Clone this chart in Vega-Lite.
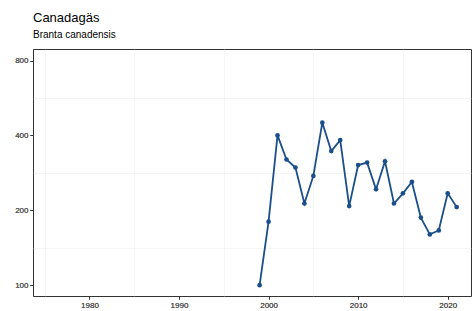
{
  "$schema": "https://vega.github.io/schema/vega-lite/v6.json",
  "width": 438,
  "height": 247,
  "autosize": {"type": "none"},
  "padding": {"left": 33, "top": 49, "right": 3, "bottom": 15},
  "background": "white",
  "title": {
    "text": "Canadagäs",
    "subtitle": "Branta canadensis",
    "anchor": "start",
    "frame": "group",
    "font": "Liberation Sans",
    "fontSize": 13,
    "fontWeight": "normal",
    "color": "#000000",
    "subtitleFont": "Liberation Sans",
    "subtitleFontSize": 10,
    "subtitleColor": "#000000",
    "subtitlePadding": 5,
    "offset": 9
  },
  "config": {
    "view": {"stroke": "#333333", "strokeWidth": 1},
    "axis": {
      "labelFont": "Liberation Sans",
      "labelFontSize": 8,
      "labelColor": "#4d4d4d",
      "tickColor": "#333333",
      "tickSize": 3,
      "domain": false,
      "gridColor": "#ebebeb",
      "gridWidth": 1,
      "title": null,
      "labelPadding": 2
    }
  },
  "data": {
    "values": [
      {"year": 1999, "count": 100},
      {"year": 2000, "count": 180},
      {"year": 2001, "count": 400},
      {"year": 2002, "count": 320},
      {"year": 2003, "count": 297},
      {"year": 2004, "count": 213},
      {"year": 2005, "count": 275},
      {"year": 2006, "count": 450},
      {"year": 2007, "count": 346},
      {"year": 2008, "count": 383},
      {"year": 2009, "count": 208},
      {"year": 2010, "count": 304},
      {"year": 2011, "count": 311},
      {"year": 2012, "count": 243},
      {"year": 2013, "count": 315},
      {"year": 2014, "count": 213},
      {"year": 2015, "count": 234},
      {"year": 2016, "count": 260},
      {"year": 2017, "count": 187},
      {"year": 2018, "count": 160},
      {"year": 2019, "count": 166},
      {"year": 2020, "count": 234},
      {"year": 2021, "count": 206}
    ]
  },
  "encoding": {
    "x": {
      "field": "year",
      "type": "quantitative",
      "scale": {"domain": [1973.7, 2022.6], "nice": false, "zero": false},
      "axis": {"values": [1980, 1990, 2000, 2010, 2020], "format": "d", "orient": "bottom"}
    },
    "y": {
      "field": "count",
      "type": "quantitative",
      "scale": {"type": "log", "domain": [90.5, 890], "nice": false},
      "axis": {"values": [100, 200, 400, 800], "format": "d", "orient": "left"}
    }
  },
  "layer": [
    {
      "mark": {"type": "point", "opacity": 0},
      "encoding": {
        "x": {
          "field": "year",
          "type": "quantitative",
          "axis": {"values": [1975, 1985, 1995, 2005, 2015], "orient": "top", "labels": false, "ticks": false, "grid": true, "gridWidth": 0.5, "domain": false}
        },
        "y": {
          "field": "count",
          "type": "quantitative",
          "axis": {"values": [141.4, 282.8, 565.7], "orient": "right", "labels": false, "ticks": false, "grid": true, "gridWidth": 0.5, "domain": false}
        }
      }
    },
    {
      "mark": {"type": "line", "color": "#1a4f8b", "strokeWidth": 1.8}
    },
    {
      "mark": {"type": "point", "filled": true, "color": "#1a4f8b", "size": 22, "opacity": 1}
    }
  ],
  "resolve": {"axis": {"x": "independent", "y": "independent"}}
}
